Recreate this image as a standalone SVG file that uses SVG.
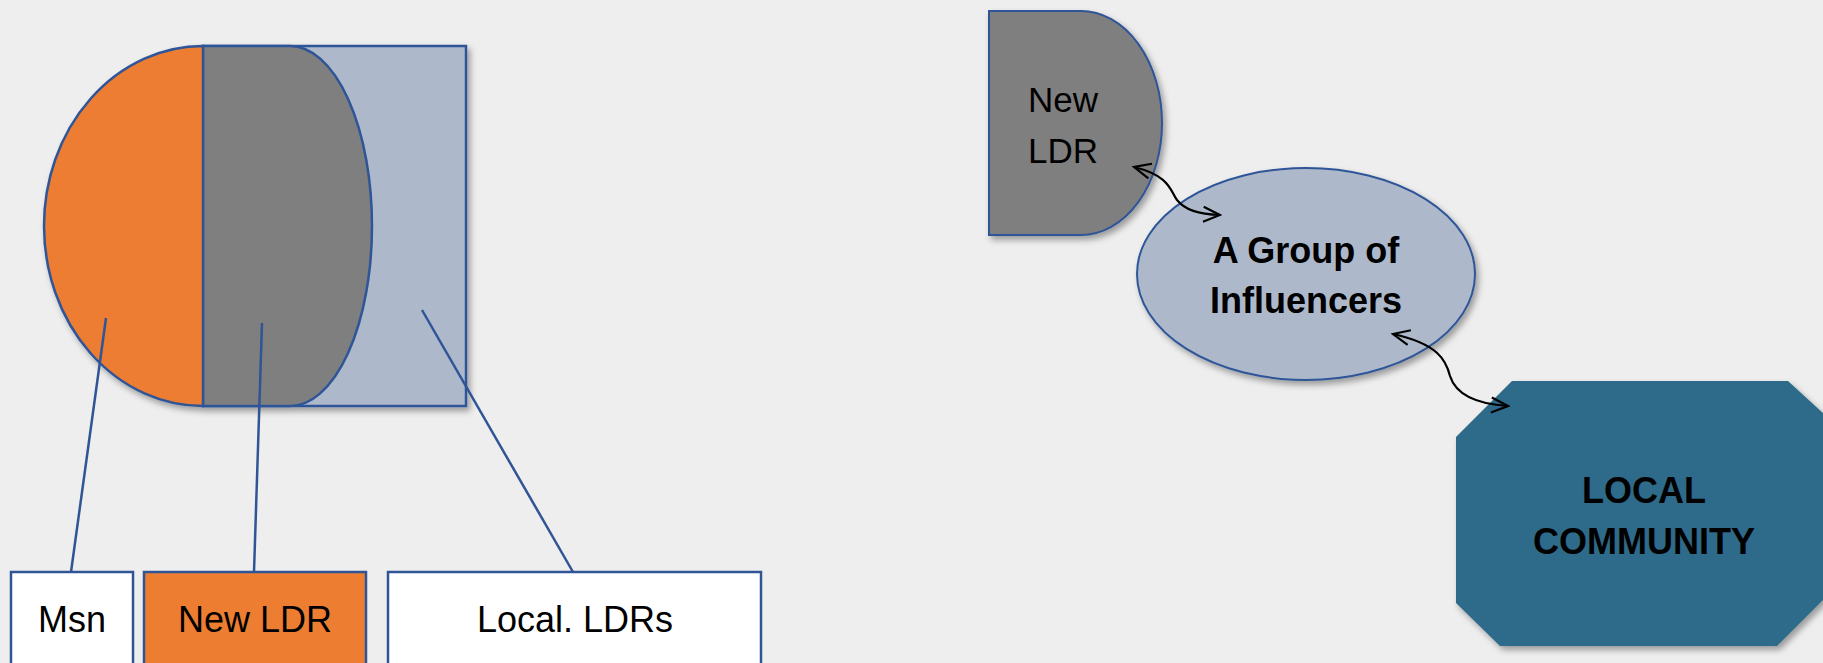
<svg xmlns="http://www.w3.org/2000/svg" width="1823" height="663" viewBox="0 0 1823 663">
<style>
.shape{stroke:#2f5597;stroke-width:2.5}
.lead{stroke:#2f5597;stroke-width:2.5;fill:none}
.box{stroke:#2f5597;stroke-width:2.5}
.t{font-family:"Liberation Sans",Arial,sans-serif;fill:#000;text-anchor:middle}
.b{font-weight:bold;font-size:36px}
.conn{stroke:#000;stroke-width:2.2;fill:none}
</style>
<defs>
<filter id="sh" x="-10%" y="-10%" width="130%" height="130%">
<feDropShadow dx="3" dy="4" stdDeviation="3" flood-color="#000" flood-opacity="0.35"/>
</filter>
<marker id="ah" viewBox="0 0 12 12" refX="11" refY="6" markerWidth="20" markerHeight="20" markerUnits="userSpaceOnUse" orient="auto-start-reverse">
<path d="M1,1.5 L11,6 L1,10.5" fill="none" stroke="#000" stroke-width="1.3"/>
</marker>
</defs>
<rect width="1823" height="663" fill="#eeeeee"/>

<g id="composite" filter="url(#sh)">
<rect id="local-ldrs-area" class="shape" x="203" y="46" width="263" height="360" fill="#adb9ca"/>
<path id="new-ldr-area" class="shape" d="M203,46 L290,46 A82,180 0 0 1 290,406 L203,406 Z" fill="#7f7f7f"/>
<path id="msn-area" class="shape" d="M203,46 A159,180 0 0 0 203,406 Z" fill="#ed7d31"/>
</g>

<g id="leaders">
<line class="lead" x1="106" y1="318" x2="71" y2="572"/>
<line class="lead" x1="262" y1="323" x2="254" y2="572"/>
<line class="lead" x1="422" y1="310" x2="573" y2="572"/>
</g>

<g id="box-msn">
<rect class="box" x="11" y="572" width="122" height="100" fill="#ffffff"/>
<text class="t" x="72" y="632" font-size="36">Msn</text>
</g>
<g id="box-newldr">
<rect class="box" x="144" y="572" width="222" height="100" fill="#ed7d31"/>
<text class="t" x="255" y="632" font-size="36">New LDR</text>
</g>
<g id="box-localldrs">
<rect class="box" x="388" y="572" width="373" height="100" fill="#ffffff"/>
<text class="t" x="575" y="632" font-size="36">Local. LDRs</text>
</g>

<g id="node-newldr">
<path d="M989,11 L1081,11 A81,112 0 0 1 1081,235 L989,235 Z" fill="#7f7f7f" stroke="#2f5597" stroke-width="2" filter="url(#sh)"/>
<text class="t" x="1063" y="112" font-size="35">New</text>
<text class="t" x="1063" y="163" font-size="35">LDR</text>
</g>

<g id="node-influencers">
<ellipse cx="1306" cy="274" rx="169" ry="106" fill="#adb9ca" stroke="#2f5597" stroke-width="2" filter="url(#sh)"/>
<text class="t b" x="1306" y="263">A Group of</text>
<text class="t b" x="1306" y="313">Influencers</text>
</g>

<g id="node-community">
<polygon points="1512,381 1788,381 1848,436 1848,575 1777,646 1500,646 1456,603 1456,437" fill="#2e6b8a" filter="url(#sh)"/>
<text class="t b" x="1644" y="503">LOCAL</text>
<text class="t b" x="1644" y="554">COMMUNITY</text>
</g>

<g id="connectors">
<path class="conn" d="M1134,167 C1170,176 1170,190 1177,200 C1185,210 1198,214 1220,215" marker-start="url(#ah)" marker-end="url(#ah)"/>
<path class="conn" d="M1393,334 C1438,344 1446,360 1450,376 C1456,395 1476,404 1508,406" marker-start="url(#ah)" marker-end="url(#ah)"/>
</g>
</svg>
